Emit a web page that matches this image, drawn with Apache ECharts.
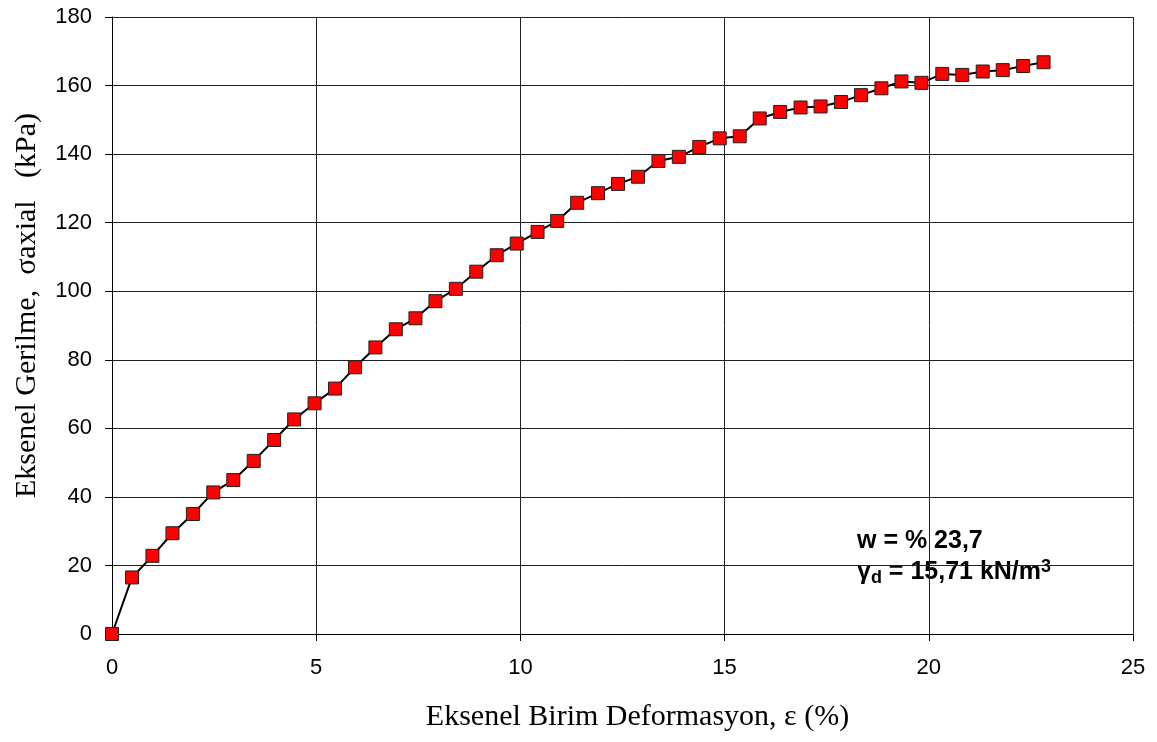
<!DOCTYPE html>
<html>
<head>
<meta charset="utf-8">
<script src="https://cdn.jsdelivr.net/npm/echarts@6/dist/echarts.min.js"></script>
<style>
  html, body { margin: 0; padding: 0; background: #fff; }
  #chart { width: 1157px; height: 742px; }
</style>
</head>
<body>
<div id="chart"></div>
<script>
// Axial strain (%) and axial stress (kPa) of the unconfined compression test
const strain = [0, 0.49, 0.99, 1.48, 1.98, 2.48, 2.97, 3.47, 3.97, 4.46, 4.96, 5.46, 5.95, 6.45, 6.95, 7.43,
  7.92, 8.42, 8.92, 9.42, 9.91, 10.42, 10.90, 11.39, 11.90, 12.39, 12.88, 13.38, 13.88, 14.38, 14.88,
  15.37, 15.86, 16.36, 16.86, 17.35, 17.85, 18.34, 18.84, 19.33, 19.82, 20.33, 20.82, 21.32, 21.81,
  22.31, 22.81];
const stress = [0, 16.5, 22.8, 29.4, 35.0, 41.3, 44.9, 50.5, 56.6, 62.6, 67.3, 71.6, 77.8, 83.6, 88.9, 92.1,
  97.1, 100.7, 105.7, 110.5, 113.9, 117.3, 120.5, 125.8, 128.6, 131.3, 133.4, 138.0, 139.2, 142.1, 144.6,
  145.2, 150.4, 152.3, 153.6, 153.9, 155.2, 157.2, 159.2, 161.2, 160.8, 163.4, 163.1, 164.1, 164.5,
  165.7, 166.8];

const xAxisRange = { min: 0, max: 25, interval: 5 };
const yAxisRange = { min: 0, max: 180, interval: 20 };

const xTitle = 'Eksenel Birim Deformasyon, ε (%)';
const yTitle = 'Eksenel Gerilme,  σaxial   (kPa)';
const noteW = 'w = % 23,7';
const noteGamma = '15,71 kN/m';

const points = strain.map((x, i) => [x, stress[i]]);

const chart = echarts.init(document.getElementById('chart'), null, { renderer: 'canvas' });

const sansFont = '"Liberation Sans", Arial, sans-serif';
const serifFont = '"Liberation Serif", "Times New Roman", serif';

chart.setOption({
  animation: false,
  backgroundColor: '#ffffff',
  grid: { left: 112, right: 24, top: 17, bottom: 108, containLabel: false, outerBoundsMode: 'none' },
  xAxis: {
    type: 'value',
    min: xAxisRange.min, max: xAxisRange.max, interval: xAxisRange.interval,
    name: xTitle,
    nameLocation: 'middle',
    nameGap: 68,
    nameTextStyle: { fontFamily: serifFont, fontSize: 30, color: '#000', padding: [0, 0, 0, 30] },
    axisLine: { show: true, lineStyle: { color: '#000', width: 1 } },
    axisTick: { show: true, inside: false, length: 7, lineStyle: { color: '#000' } },
    axisLabel: { fontFamily: sansFont, fontSize: 22, color: '#000', margin: 23 },
    splitLine: { show: true, lineStyle: { color: '#222', width: 1 } }
  },
  yAxis: {
    type: 'value',
    min: yAxisRange.min, max: yAxisRange.max, interval: yAxisRange.interval,
    name: yTitle,
    nameLocation: 'middle',
    nameGap: 70,
    nameTextStyle: { fontFamily: serifFont, fontSize: 30, color: '#000', padding: [0, 0, 0, 40] },
    axisLine: { show: true, lineStyle: { color: '#000', width: 1 } },
    axisTick: { show: true, inside: false, length: 7, lineStyle: { color: '#000' } },
    axisLabel: { fontFamily: sansFont, fontSize: 22, color: '#000', margin: 20 },
    splitLine: { show: true, lineStyle: { color: '#222', width: 1 } }
  },
  series: [{
    type: 'line',
    data: points,
    symbol: 'rect',
    symbolSize: 13,
    showSymbol: true,
    lineStyle: { color: '#000', width: 2 },
    itemStyle: { color: '#ff0000', borderColor: '#222', borderWidth: 1 },
    z: 5
  }],
  graphic: [{
    type: 'group',
    left: 852, top: 503,
    z: 20,
    children: [
      { type: 'rect', shape: { x: 0, y: 0, width: 248, height: 105 }, style: { fill: '#ffffff' } },
      {
        type: 'text', x: 5, y: 26,
        style: {
          text: noteW,
          font: 'bold 25px ' + sansFont,
          fill: '#000'
        }
      },
      {
        type: 'text', x: 5, y: 54,
        style: {
          text: '{g|γ}{sub|d}{t| = ' + noteGamma + '}{sup|3}',
          rich: {
            g: { font: 'bold 25px ' + sansFont, fill: '#000' },
            sub: { font: 'bold 18px ' + sansFont, fill: '#000', verticalAlign: 'bottom', padding: [12, 0, 0, 0] },
            t: { font: 'bold 25px ' + sansFont, fill: '#000' },
            sup: { font: 'bold 18px ' + sansFont, fill: '#000', padding: [0, 0, 10, 0] }
          }
        }
      }
    ]
  }]
});
</script>
</body>
</html>
